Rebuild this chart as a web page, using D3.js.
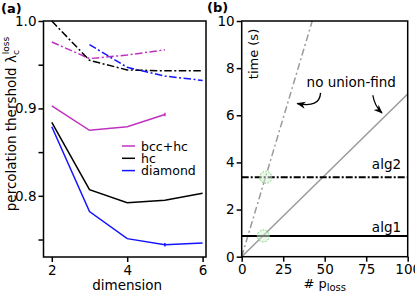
<!DOCTYPE html>
<meta charset="utf-8">
<head>
<style>
body { margin: 0; background: #fff; }
text { font-family: "DejaVu Sans", Verdana, sans-serif; }
</style>
</head>
<script src="https://d3js.org/d3.v7.min.js"></script>
<div id="chart"></div>
<script>

// ---- panel (a) data: percolation threshold vs dimension
var dims = [2, 3, 4, 5, 6];
var bccSolid = [0.903, 0.875, 0.879, 0.893, null];
var bccDash  = [0.976, 0.957, 0.961, 0.967, null];
var hcSolid  = [0.884, 0.807, 0.792, 0.795, 0.803];
var hcDash   = [1.000, 0.955, 0.944, 0.943, 0.943];
var diaSolid = [0.879, 0.782, 0.751, 0.744, 0.746];
var diaDash  = [null, 0.973, 0.947, 0.937, 0.932];
var legendNames = ["bcc+hc", "hc", "diamond"];
var colors = ["#c030c0", "#000000", "#1414ff"];
var aYTicks = [0.8, 0.9, 1.0];
var aYMinor = [0.75, 0.85, 0.95];
var aXTicks = [2, 4, 6];

// ---- panel (b) data: time vs number of p_loss
var noUFDash  = [[0, 0], [42.5, 10]];
var noUFSolid = [[0, 0], [100, 6.9]];
var alg2 = [[0, 3.37], [100, 3.37]];
var alg1 = [[0, 0.88], [100, 0.88]];
var crossings = [[14.5, 3.37], [13, 0.88]];
var bXTicks = [0, 25, 50, 75, 100];
var bYTicks = [0, 2, 4, 6, 8, 10];

var W = 415, H = 294;
var svg = d3.select("#chart").append("svg")
  .attr("width", W).attr("height", H);

// scales
var xa = d3.scaleLinear().domain([1.78, 6.09]).range([43.5, 206]);
var ya = d3.scaleLinear().domain([0.73, 1.0]).range([257, 21]);
var xb = d3.scaleLinear().domain([0, 100]).range([241.7, 407.7]);
var yb = d3.scaleLinear().domain([0, 10]).range([256.7, 21]);

var tickFont = "13.5px";

function frame(x, y) {
  svg.append("rect")
    .attr("x", x.range()[0]).attr("y", y.range()[1])
    .attr("width", x.range()[1] - x.range()[0])
    .attr("height", y.range()[0] - y.range()[1])
    .attr("fill", "none").attr("stroke", "#000").attr("stroke-width", 1.5);
}

function axes(x, y, xt, yt, yfmt, yminor) {
  var gx = svg.append("g")
    .attr("transform", "translate(0," + y.range()[0] + ")")
    .call(d3.axisBottom(x).tickValues(xt).tickSize(5).tickPadding(3).tickFormat(d3.format("d")));
  var gy = svg.append("g")
    .attr("transform", "translate(" + x.range()[0] + ",0)")
    .call(d3.axisLeft(y).tickValues(yt).tickSize(5).tickPadding(2).tickFormat(yfmt));
  if (yminor) {
    svg.append("g")
      .attr("transform", "translate(" + x.range()[0] + ",0)")
      .call(d3.axisLeft(y).tickValues(yminor).tickSize(5).tickFormat(""))
      .select(".domain").remove();
  }
  [gx, gy].forEach(function(g) {
    g.select(".domain").remove();
    g.selectAll("text").style("font-size", tickFont).attr("fill", "#000");
  });
  svg.selectAll("g line").attr("stroke-width", 1.5);
}

// ---------------- panel (a)
axes(xa, ya, aXTicks, aYTicks, d3.format(".1f"), aYMinor);

var lineA = d3.line()
  .defined(function(d) { return d[1] != null; })
  .x(function(d) { return xa(d[0]); })
  .y(function(d) { return ya(d[1]); });

function zipA(vals) { return dims.map(function(d, i) { return [d, vals[i]]; }); }

var dashDot = "7.5,2.5,2,2.5";
var seriesA = [
  {v: bccSolid, c: colors[0], dash: null},
  {v: hcSolid,  c: colors[1], dash: null},
  {v: diaSolid, c: colors[2], dash: null},
  {v: bccDash,  c: colors[0], dash: dashDot},
  {v: hcDash,   c: colors[1], dash: dashDot},
  {v: diaDash,  c: colors[2], dash: dashDot}
];
seriesA.forEach(function(s) {
  svg.append("path")
    .attr("d", lineA(zipA(s.v)))
    .attr("fill", "none")
    .attr("stroke", s.c)
    .attr("stroke-width", 1.5)
    .attr("stroke-dasharray", s.dash);
});

// small error bars at dimension 5
[[bccSolid, colors[0]], [diaSolid, colors[2]]].forEach(function(e) {
  svg.append("line")
    .attr("x1", xa(5)).attr("x2", xa(5))
    .attr("y1", ya(e[0][3] - 0.002)).attr("y2", ya(e[0][3] + 0.002))
    .attr("stroke", e[1]).attr("stroke-width", 1.5);
});

// legend
legendNames.forEach(function(n, i) {
  var ly = 146 + i * 12.3;
  svg.append("line")
    .attr("x1", 122).attr("x2", 135).attr("y1", ly).attr("y2", ly)
    .attr("stroke", colors[i]).attr("stroke-width", 1.5);
  svg.append("text")
    .attr("x", 141).attr("y", ly + 4.5)
    .style("font-size", "12.5px")
    .text(n);
});

// axis labels
svg.append("text")
  .attr("x", xa(4)).attr("y", 290)
  .attr("text-anchor", "middle")
  .style("font-size", "13.5px")
  .text("dimension");

var yl = svg.append("text")
  .attr("transform", "translate(16,124) rotate(-90)")
  .attr("text-anchor", "middle")
  .style("font-size", "13.5px");
yl.append("tspan").text("percolation thershold λ");
yl.append("tspan").attr("dy", 3).style("font-size", "9px").text("c");
yl.append("tspan").attr("dy", -10).attr("dx", -4).style("font-size", "9px").text("loss");

svg.append("text").attr("x", 1).attr("y", 13)
  .style("font-size", "13px").style("font-weight", "bold").text("(a)");

// ---------------- panel (b)
axes(xb, yb, bXTicks, bYTicks, d3.format("d"), null);

var lineB = d3.line()
  .x(function(d) { return xb(d[0]); })
  .y(function(d) { return yb(d[1]); });

svg.append("path").attr("d", lineB(noUFDash))
  .attr("fill", "none").attr("stroke", "#9a9a9a").attr("stroke-width", 1.5)
  .attr("stroke-dasharray", "7,3,2,3");
svg.append("path").attr("d", lineB(noUFSolid))
  .attr("fill", "none").attr("stroke", "#9a9a9a").attr("stroke-width", 1.5);
svg.append("path").attr("d", lineB(alg2))
  .attr("fill", "none").attr("stroke", "#000").attr("stroke-width", 2)
  .attr("stroke-dasharray", "7,2,2,2");
svg.append("path").attr("d", lineB(alg1))
  .attr("fill", "none").attr("stroke", "#000").attr("stroke-width", 2);

crossings.forEach(function(p) {
  svg.append("circle")
    .attr("cx", xb(p[0])).attr("cy", yb(p[1])).attr("r", 6)
    .attr("fill", "#d8f0d8").attr("fill-opacity", 0.5)
    .attr("stroke", "#66cc66").attr("stroke-width", 1)
    .attr("stroke-dasharray", "1.5,1.5");
});

// annotations
svg.append("text").attr("x", xb(66)).attr("y", yb(7.22))
  .attr("text-anchor", "middle").style("font-size", "13.5px")
  .text("no union-find");
svg.append("text").attr("x", xb(96)).attr("y", yb(3.72))
  .attr("text-anchor", "end").style("font-size", "13.5px").text("alg2");
svg.append("text").attr("x", xb(96)).attr("y", yb(1.05))
  .attr("text-anchor", "end").style("font-size", "13.5px").text("alg1");

svg.append("defs").append("marker")
  .attr("id", "ah").attr("viewBox", "0 0 10 10")
  .attr("refX", 9).attr("refY", 5)
  .attr("markerWidth", 7).attr("markerHeight", 7)
  .attr("orient", "auto")
  .append("path").attr("d", "M0,1 L10,5 L0,9 L3,5 Z").attr("fill", "#000");

var arrows = [
  {from: [47.5, 6.95], ctrl: [47, 6.3], to: [33.5, 6.5]},
  {from: [79, 6.85], ctrl: [80, 6.4], to: [84.5, 6.1]}
];
arrows.forEach(function(a) {
  svg.append("path")
    .attr("d", "M" + xb(a.from[0]) + "," + yb(a.from[1]) +
               " Q" + xb(a.ctrl[0]) + "," + yb(a.ctrl[1]) +
               " " + xb(a.to[0]) + "," + yb(a.to[1]))
    .attr("fill", "none").attr("stroke", "#000").attr("stroke-width", 1.3)
    .attr("marker-end", "url(#ah)");
});

svg.append("text")
  .attr("transform", "translate(" + (xb(0) + 16) + "," + yb(8.6) + ") rotate(-90)")
  .attr("text-anchor", "middle").style("font-size", "13px")
  .text("time (s)");

var xl = svg.append("text")
  .attr("x", xb(50)).attr("y", 288)
  .attr("text-anchor", "middle").style("font-size", "13px");
xl.append("tspan").text("#  p");
xl.append("tspan").attr("dy", 3).style("font-size", "10px").text("loss");

svg.append("text").attr("x", 207).attr("y", 12)
  .style("font-size", "13px").style("font-weight", "bold").text("(b)");

frame(xa, ya);
frame(xb, yb);
</script>
